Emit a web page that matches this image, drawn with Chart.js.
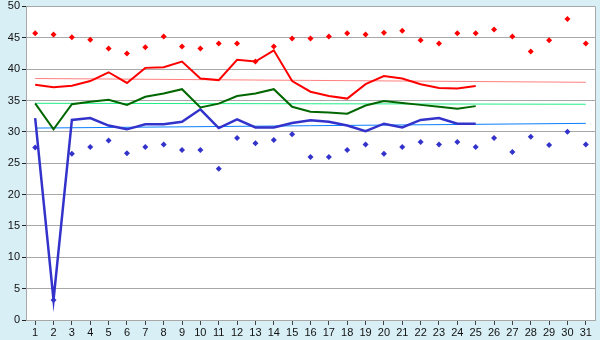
<!DOCTYPE html>
<html>
<head>
<meta charset="utf-8">
<script src="https://cdn.jsdelivr.net/npm/chart.js@4/dist/chart.umd.min.js"></script>
<style>
  html, body { margin: 0; padding: 0; background: #d9eff6; }
  #wrap { width: 600px; height: 340px; position: relative; }
</style>
</head>
<body>
<div id="wrap"><canvas id="chart"></canvas></div>
<script>
// ===== DATA =====
const DAYS = Array.from({ length: 31 }, (_, i) => String(i + 1));

// daily highs / lows (markers)
const HIGHS = [45.7, 45.5, 45.1, 44.7, 43.3, 42.5, 43.5, 45.2, 43.6, 43.3,
  44.1, 44.1, 41.2, 43.6, 44.9, 44.9, 45.2, 45.7, 45.5, 45.8,
  46.1, 44.6, 44.1, 45.7, 45.7, 46.3, 45.2, 42.8, 44.6, 48.0, 44.1];
const LOWS = [27.5, 3.2, 26.5, 27.6, 28.6, 26.6, 27.6, 28.0, 27.1, 27.1,
  24.1, 29.0, 28.2, 28.7, 29.6, 26.0, 26.0, 27.1, 28.0, 26.5,
  27.6, 28.4, 28.0, 28.4, 27.6, 29.0, 26.8, 29.2, 27.9, 30.0, 28.0];

// current month lines (days 1-25)
const RED_LINE = [37.5, 37.1, 37.35, 38.1, 39.5, 37.8, 40.2, 40.3, 41.2, 38.5,
  38.25, 41.5, 41.2, 43.0, 38.1, 36.4, 35.7, 35.3, 37.6, 38.9,
  38.5, 37.6, 37.0, 36.9, 37.3];
const GREEN_LINE = [34.55, 30.4, 34.4, 34.8, 35.1, 34.3, 35.6, 36.1, 36.8, 33.9,
  34.5, 35.7, 36.1, 36.8, 34.0, 33.2, 33.1, 32.9, 34.2, 34.9,
  34.6, 34.3, 34.0, 33.7, 34.1];
const BLUE_LINE = [32.2, 3.2, 31.9, 32.2, 31.0, 30.4, 31.2, 31.2, 31.6, 33.6,
  30.6, 32.0, 30.7, 30.7, 31.4, 31.85, 31.6, 31.0, 30.1, 31.3,
  30.7, 31.9, 32.2, 31.3, 31.3];

// thin reference lines: value at day 1 and day 31
const RED_REF = [38.5, 37.9];
const GREEN_REF = [34.55, 34.4];
const BLUE_REF = [30.6, 31.35];

const Y_TICKS = [0, 5, 10, 15, 20, 25, 30, 35, 40, 45, 50];

function endsOnly(pair) {
  return DAYS.map((d, i) => i === 0 ? pair[0] : (i === DAYS.length - 1 ? pair[1] : null));
}

// ===== PLOT AREA BACKGROUND / BORDER =====
const plotBg = {
  id: 'plotBg',
  beforeDraw(chart) {
    const { ctx, chartArea: a } = chart;
    ctx.save();
    ctx.fillStyle = '#ffffff';
    ctx.fillRect(a.left, a.top, a.right - a.left, a.bottom - a.top);
    ctx.restore();
  },
  afterDraw(chart) {
    const { ctx, chartArea: a } = chart;
    ctx.save();
    ctx.strokeStyle = '#a8a8a8';
    ctx.lineWidth = 1;
    ctx.beginPath();
    ctx.moveTo(Math.round(a.right) + 0.5, a.top);
    ctx.lineTo(Math.round(a.right) + 0.5, a.bottom);
    ctx.stroke();
    ctx.restore();
  }
};

const line = (data, color, width, order) => ({
  data, borderColor: color, borderWidth: width, pointRadius: 0,
  tension: 0, fill: false, spanGaps: true, order
});
const marks = (data, color, order) => ({
  data, showLine: false, pointStyle: 'rectRot', pointRadius: 3,
  pointBackgroundColor: color, pointBorderColor: color, pointBorderWidth: 0, order
});

new Chart(document.getElementById('chart'), {
  type: 'line',
  data: {
    labels: DAYS,
    datasets: [
      line(endsOnly(RED_REF), '#ff8080', 1, 7),
      line(endsOnly(GREEN_REF), '#22ee88', 1, 7),
      line(endsOnly(BLUE_REF), '#0a80ff', 1, 7),
      line(RED_LINE, '#ff0000', 2, 3),
      line(GREEN_LINE, '#006600', 2, 3),
      line(BLUE_LINE, '#3333cc', 2.5, 3),
      marks(HIGHS, '#ff0000', 1),
      marks(LOWS, '#3333cc', 1)
    ]
  },
  options: {
    responsive: true, maintainAspectRatio: false, animation: false,
    layout: { padding: { top: 5, right: 5, left: 0, bottom: 0 } },
    plugins: { legend: { display: false }, tooltip: { enabled: false } },
    scales: {
      x: {
        offset: true,
        grid: { display: true, drawOnChartArea: false, color: '#444', tickLength: 5, offset: false },
        border: { color: '#a8a8a8' },
        ticks: { color: '#111', font: { family: 'Liberation Sans', size: 11 }, padding: 1,
          maxRotation: 0, autoSkip: false },
        afterFit(s) { s.height = 20; }
      },
      y: {
        min: 0, max: 50,
        afterBuildTicks(s) { s.ticks = Y_TICKS.map(v => ({ value: v })); },
        grid: { color: '#a8a8a8', tickLength: 4, tickColor: '#222' },
        border: { color: '#a8a8a8' },
        ticks: { color: '#111', font: { family: 'Liberation Sans', size: 11, lineHeight: 0.8 }, padding: 2 },
        afterFit(s) { s.width = 26; }
      }
    }
  },
  plugins: [plotBg]
});
</script>
</body>
</html>
